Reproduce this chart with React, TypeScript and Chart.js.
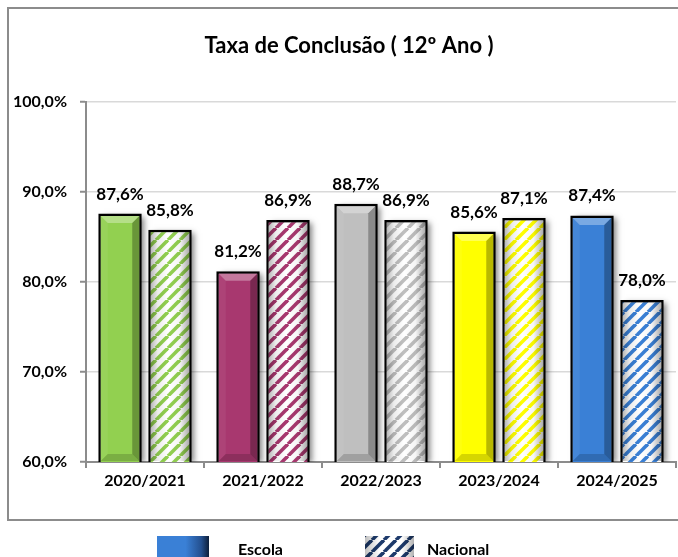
import React, { useEffect, useRef } from "react";
import { Chart, registerables } from "chart.js";

Chart.register(...registerables);

const categories = ["2020/2021", "2021/2022", "2022/2023", "2023/2024", "2024/2025"];
const escolaValues = [87.6, 81.2, 88.7, 85.6, 87.4];
const nacionalValues = [85.8, 86.9, 86.9, 87.1, 78.0];
const categoryColors = ["#92d050", "#a8386f", "#bfbfbf", "#ffff00", "#3a80d6"];
const seriesNames = ["Escola", "Nacional"];
const titleText = "Taxa de Conclusão ( 12º Ano )";
const yMin = 60;
const yMax = 100;
const yStep = 10;

const FONT = "Lato";

function makeStripes(color: string): CanvasPattern | string {
  const s = 12;
  const c = document.createElement("canvas");
  c.width = s;
  c.height = s;
  const g = c.getContext("2d");
  if (!g) return color;
  g.fillStyle = "#ffffff";
  g.fillRect(0, 0, s, s);
  g.strokeStyle = color;
  g.lineWidth = 3.6;
  for (const x0 of [-s, 0, s]) {
    g.beginPath();
    g.moveTo(x0, s);
    g.lineTo(x0 + s, 0);
    g.stroke();
  }
  const p = g.createPattern(c, "repeat");
  return p || color;
}

const fmt = (v: number) => v.toFixed(1).replace(".", ",") + "%";

function barRect(el: any, chart: any) {
  const left = el.x - el.width / 2;
  const right = el.x + el.width / 2;
  const top = Math.min(el.y, el.base);
  const bottom = Math.min(Math.max(el.y, el.base), chart.chartArea.bottom);
  return { left, right, top, bottom };
}

const frameAndTitle = {
  id: "frameAndTitle",
  beforeDraw(chart: any) {
    const ctx = chart.ctx;
    ctx.save();
    ctx.strokeStyle = "#8c8c8c";
    ctx.lineWidth = 2;
    ctx.strokeRect(8, 8, 720, 512);
    ctx.fillStyle = "#000";
    ctx.font = `bold 22px ${FONT}`;
    ctx.textAlign = "center";
    ctx.textBaseline = "alphabetic";
    ctx.fillText(titleText, 349, 53);
    ctx.restore();
  },
};

const barFx = {
  id: "barFx",
  beforeDatasetsDraw(chart: any) {
    const ctx = chart.ctx;
    const ca = chart.chartArea;
    ctx.save();
    ctx.beginPath();
    ctx.rect(ca.left, ca.top - 20, ca.right - ca.left + 10, ca.bottom - ca.top + 20);
    ctx.clip();
    ctx.shadowColor = "rgba(0,0,0,0.5)";
    ctx.shadowBlur = 6;
    ctx.shadowOffsetX = 4;
    ctx.shadowOffsetY = 1;
    ctx.fillStyle = "#888";
    chart.data.datasets.forEach((_: any, di: number) => {
      chart.getDatasetMeta(di).data.forEach((el: any) => {
        const r = barRect(el, chart);
        ctx.fillRect(r.left + 2, r.top + 2, r.right - r.left - 4, r.bottom - r.top - 2);
      });
    });
    ctx.restore();
  },
  afterDatasetsDraw(chart: any) {
    const ctx = chart.ctx;
    ctx.save();
    const b = 2.5;
    chart.data.datasets.forEach((_: any, di: number) => {
      chart.getDatasetMeta(di).data.forEach((el: any) => {
        const r = barRect(el, chart);
        const x0 = r.left + b;
        const x1 = r.right - b;
        const y0 = r.top + b;
        const y1 = r.bottom - 1;
        const w = x1 - x0;
        if (di === 0) {
          const d = 7;
          ctx.fillStyle = "rgba(255,255,255,0.32)";
          ctx.beginPath();
          ctx.moveTo(x0, y0);
          ctx.lineTo(x1, y0);
          ctx.lineTo(x1 - d, y0 + d);
          ctx.lineTo(x0 + d, y0 + d);
          ctx.closePath();
          ctx.fill();
          ctx.fillStyle = "rgba(255,255,255,0.06)";
          ctx.beginPath();
          ctx.moveTo(x0, y0);
          ctx.lineTo(x0 + d, y0 + d);
          ctx.lineTo(x0 + d, y1 - d);
          ctx.lineTo(x0, y1);
          ctx.closePath();
          ctx.fill();
          ctx.fillStyle = "rgba(0,0,0,0.28)";
          ctx.beginPath();
          ctx.moveTo(x1, y0);
          ctx.lineTo(x1 - d, y0 + d);
          ctx.lineTo(x1 - d, y1 - d);
          ctx.lineTo(x1, y1);
          ctx.closePath();
          ctx.fill();
          ctx.fillStyle = "rgba(0,0,0,0.16)";
          ctx.beginPath();
          ctx.moveTo(x0, y1);
          ctx.lineTo(x0 + d, y1 - d);
          ctx.lineTo(x1 - d, y1 - d);
          ctx.lineTo(x1, y1);
          ctx.closePath();
          ctx.fill();
        } else {
          const g = ctx.createLinearGradient(x0, 0, x1, 0);
          g.addColorStop(0, "rgba(0,0,0,0.28)");
          g.addColorStop(0.18, "rgba(0,0,0,0.08)");
          g.addColorStop(0.45, "rgba(0,0,0,0)");
          g.addColorStop(0.75, "rgba(0,0,0,0.04)");
          g.addColorStop(1, "rgba(0,0,0,0.32)");
          ctx.fillStyle = g;
          ctx.fillRect(x0, y0, w, y1 - y0);
        }
      });
    });
    ctx.fillStyle = "#000";
    ctx.font = `bold 17px ${FONT}`;
    ctx.textAlign = "center";
    ctx.textBaseline = "alphabetic";
    chart.data.datasets.forEach((ds: any, di: number) => {
      chart.getDatasetMeta(di).data.forEach((el: any, i: number) => {
        ctx.fillText(fmt(ds.data[i]), el.x, el.y - 14);
      });
    });
    ctx.restore();
  },
};

const customLegend = {
  id: "customLegend",
  afterDraw(chart: any) {
    const ctx = chart.ctx;
    ctx.save();
    const items = [
      { sx: 157, sw: 52, tx: 238 },
      { sx: 365, sw: 49, tx: 427 },
    ];
    const legendColor = categoryColors[categoryColors.length - 1];
    items.forEach((it, i) => {
      const y = 536;
      const h = 30;
      if (i === 0) {
        const g = ctx.createLinearGradient(it.sx, 0, it.sx + it.sw, 0);
        g.addColorStop(0, legendColor);
        g.addColorStop(0.55, legendColor);
        g.addColorStop(0.85, "#24508f");
        g.addColorStop(1, "#0d1f3a");
        ctx.fillStyle = g;
        ctx.fillRect(it.sx, y, it.sw, h);
      } else {
        ctx.fillStyle = makeStripes("#1d3a6b");
        ctx.fillRect(it.sx, y, it.sw, h);
        const g = ctx.createLinearGradient(it.sx, 0, it.sx + it.sw, 0);
        g.addColorStop(0, "rgba(0,0,0,0.25)");
        g.addColorStop(0.3, "rgba(0,0,0,0)");
        g.addColorStop(0.75, "rgba(0,0,0,0)");
        g.addColorStop(1, "rgba(0,0,0,0.3)");
        ctx.fillStyle = g;
        ctx.fillRect(it.sx, y, it.sw, h);
      }
      ctx.fillStyle = "#000";
      ctx.font = `bold 16px ${FONT}`;
      ctx.textAlign = "left";
      ctx.textBaseline = "alphabetic";
      ctx.fillText(chart.data.datasets[i].label, it.tx, 555);
    });
    ctx.restore();
  },
};

export default function App() {
  const ref = useRef<HTMLCanvasElement | null>(null);
  useEffect(() => {
    if (!ref.current) return;
    Chart.defaults.font.family = FONT;
    const chart = new Chart(ref.current, {
      type: "bar",
      data: {
        labels: categories,
        datasets: [
          {
            label: seriesNames[0],
            data: escolaValues,
            backgroundColor: categoryColors,
            borderColor: "#000",
            borderWidth: 2.5,
            borderSkipped: false,
          },
          {
            label: seriesNames[1],
            data: nacionalValues,
            backgroundColor: categoryColors.map((c) => makeStripes(c)),
            borderColor: "#000",
            borderWidth: 2.5,
            borderSkipped: false,
          },
        ],
      },
      options: {
        responsive: false,
        animation: false,
        devicePixelRatio: 1,
        layout: { padding: { left: 0, right: 2, top: 102, bottom: 55 } },
        datasets: {
          bar: { categoryPercentage: 0.847, barPercentage: 0.87 },
        },
        plugins: {
          legend: { display: false },
          title: { display: false },
          tooltip: { enabled: false },
        },
        scales: {
          x: {
            offset: true,
            grid: {
              display: true,
              drawOnChartArea: false,
              drawTicks: true,
              tickLength: 6,
              color: "#8c8c8c",
              lineWidth: 2,
              offset: true,
            },
            border: { display: true, color: "#8c8c8c", width: 2 },
            ticks: {
              font: { family: FONT, weight: "bold", size: 16 },
              color: "#000",
              padding: 3,
            },
            afterFit(s: any) {
              s.height = 40;
            },
          },
          y: {
            min: yMin,
            max: yMax,
            ticks: {
              stepSize: yStep,
              callback: (v: any) => fmt(Number(v)),
              font: { family: FONT, weight: "bold", size: 16 },
              color: "#000",
              padding: 13,
            },
            grid: {
              color: "#d9d9d9",
              lineWidth: 1.5,
              tickColor: "#8c8c8c",
              tickLength: 6,
              tickWidth: 2,
            },
            border: { display: true, color: "#8c8c8c", width: 2 },
            afterFit(s: any) {
              s.width = 86;
            },
          },
        },
      },
      plugins: [frameAndTitle, barFx, customLegend],
    } as any);
    return () => chart.destroy();
  }, []);
  return (
    <div style={{ position: "absolute", left: 0, top: 0, width: 678, height: 557, background: "#fff" }}>
      <canvas ref={ref} width={678} height={557} style={{ display: "block" }} />
    </div>
  );
}
